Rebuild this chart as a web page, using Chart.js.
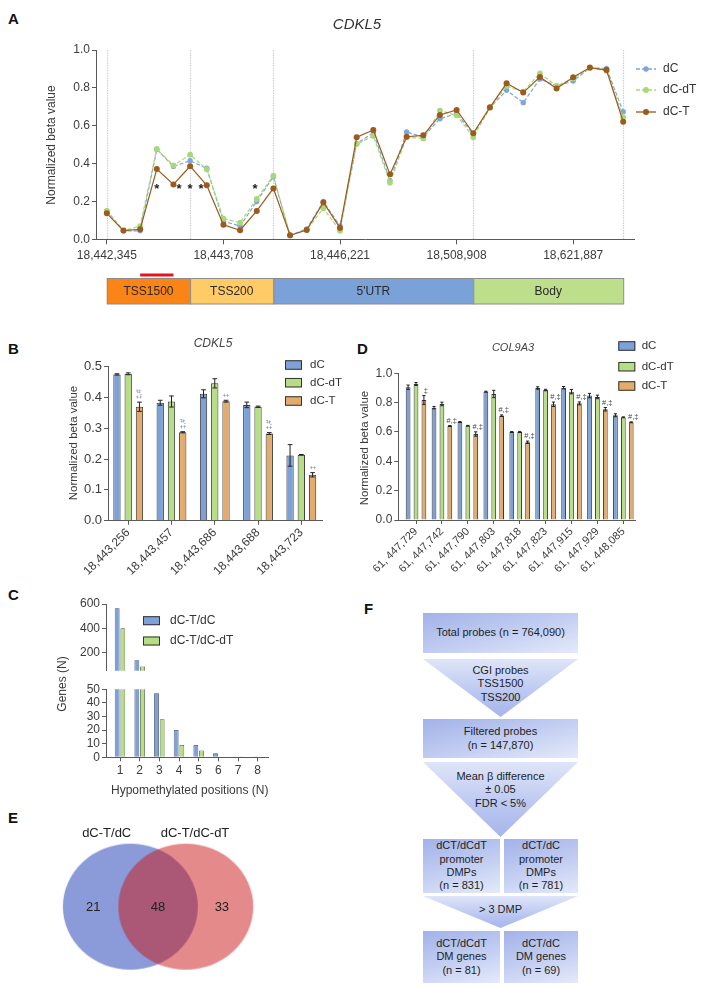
<!DOCTYPE html>
<html><head><meta charset="utf-8">
<script src="https://cdn.jsdelivr.net/npm/chart.js@4.4.1/dist/chart.umd.min.js"></script>
<style>
body{margin:0;background:#fff;width:705px;height:988px;position:relative;overflow:hidden;font-family:'Liberation Sans',Arial,Helvetica,sans-serif;}
canvas{position:absolute;}
.lbl{position:absolute;font-weight:bold;font-size:15px;line-height:15px;color:#111;}
.fb{position:absolute;box-sizing:border-box;display:flex;flex-direction:column;justify-content:center;align-items:center;text-align:center;font-size:11px;line-height:13.3px;color:#1e1e1e;}
.box{background:linear-gradient(165deg,#a2b2e9 0%,#c4cff2 55%,#e5eafa 100%);}
.tri{background:linear-gradient(to bottom,#dfe5f8 0%,#b9c6f0 60%,#a6b5eb 100%);clip-path:polygon(0 0,100% 0,50% 100%);justify-content:flex-start;}
.ytl{position:absolute;font-size:12px;color:#3a3a3a;transform:rotate(-90deg);transform-origin:center;white-space:nowrap;}
</style></head>
<body>
<div class="lbl" style="left:8px;top:11px">A</div>
<div class="lbl" style="left:8px;top:341px">B</div>
<div class="lbl" style="left:357px;top:341px">D</div>
<div class="lbl" style="left:8px;top:587px">C</div>
<div class="lbl" style="left:8px;top:810px">E</div>
<div class="lbl" style="left:364px;top:601px">F</div>

<canvas id="cA" width="705" height="312" style="left:0;top:0"></canvas>
<canvas id="cD" width="365" height="250" style="left:340px;top:330px"></canvas>
<canvas id="cB" width="350" height="250" style="left:0;top:330px"></canvas>
<canvas id="cC1" width="360" height="90" style="left:0;top:590px"></canvas>
<canvas id="cC2" width="360" height="120" style="left:0;top:680px"></canvas>
<canvas id="cE" width="320" height="188" style="left:0;top:800px"></canvas>
<div class="ytl" style="left:32px;top:677px;width:60px;text-align:center">Genes (N)</div>

<!-- Panel F flowchart -->
<div class="fb box" style="left:423px;top:613px;width:155px;height:40px">Total probes (n = 764,090)</div>
<div class="fb tri" style="left:423px;top:659px;width:155px;height:58px;padding-top:5px">CGI probes<br>TSS1500<br>TSS200</div>
<div class="fb box" style="left:423px;top:719px;width:155px;height:39px">Filtered probes<br>(n = 147,870)</div>
<div class="fb tri" style="left:423px;top:762px;width:155px;height:75px;padding-top:8px">Mean β difference<br>± 0.05<br>FDR &lt; 5%</div>
<div class="fb box" style="left:423px;top:839px;width:77px;height:54px">dCT/dCdT<br>promoter<br>DMPs<br>(n = 831)</div>
<div class="fb box" style="left:504px;top:839px;width:74px;height:54px">dCT/dC<br>promoter<br>DMPs<br>(n = 781)</div>
<div class="fb tri" style="left:423px;top:896px;width:155px;height:32px;padding-top:7px">&gt; 3 DMP</div>
<div class="fb box" style="left:423px;top:931px;width:77px;height:52px">dCT/dCdT<br>DM genes<br>(n = 81)</div>
<div class="fb box" style="left:504px;top:931px;width:74px;height:52px">dCT/dC<br>DM genes<br>(n = 69)</div>

<script>
// ================= DATA =================
// Panel A: CDKL5 probes (32 positions along gene)
const aProbeIdx = [0,1,2,3,4,5,6,7,8,9,10,11,12,13,14,15,16,17,18,19,20,21,22,23,24,25,26,27,28,29,30,31];
const aDC   = [0.15,0.045,0.045,0.475,0.385,0.415,0.375,0.095,0.07,0.20,0.33,0.02,0.055,0.20,0.07,0.505,0.563,0.31,0.567,0.54,0.637,0.665,0.556,0.695,0.787,0.722,0.847,0.81,0.836,0.905,0.903,0.674];
const aDCdT = [0.15,0.045,0.07,0.477,0.39,0.447,0.37,0.109,0.088,0.213,0.336,0.02,0.05,0.164,0.045,0.503,0.546,0.299,0.54,0.533,0.68,0.655,0.539,0.695,0.81,0.78,0.877,0.81,0.85,0.905,0.89,0.644];
const aDCT  = [0.137,0.046,0.053,0.371,0.29,0.386,0.285,0.077,0.048,0.15,0.269,0.021,0.049,0.195,0.06,0.539,0.577,0.343,0.542,0.549,0.657,0.683,0.56,0.697,0.824,0.775,0.857,0.797,0.856,0.907,0.894,0.621];
const aTickPos = [0,7,14,21,28];
const aTickLabels = ['18,442,345','18,443,708','18,446,221','18,508,908','18,621,887'];
const aRegionNames = ['TSS1500','TSS200',"5'UTR",'Body'];
const aRegionBounds = [0,5,10,22,31];
const aRegionColors = ['#fb8416','#ffcb66','#7aa2d8','#bddf8b'];
const aRedBar = [2,4];
const aStarPos = [3,4.33,5,5.66,8.9];
const aStarVal = [0.28,0.28,0.28,0.28,0.28];

// Panel B: CDKL5 bars
const bLabels = ['18,443,256','18,443,457','18,443,686','18,443,688','18,443,723'];
const bPos = [1,2,3,4,5];
const bDC   = [0.475,0.383,0.412,0.376,0.212];
const bDCdT = [0.477,0.387,0.446,0.370,0.214];
const bDCT  = [0.370,0.287,0.388,0.283,0.149];
const bErrDC   = [0.002,0.008,0.013,0.009,0.035];
const bErrDCdT = [0.003,0.018,0.015,0.002,0.001];
const bErrDCT  = [0.015,0.002,0.003,0.003,0.007];
const bMarks = ['‡,#','‡,#','‡','‡,#','‡'];

// Panel D: COL9A3 bars
const dLabels = ['61, 447,729','61, 447,742','61, 447,790','61, 447,803','61, 447,818','61, 447,823','61, 447,915','61, 447,929','61, 448,085'];
const dPos = [1,2,3,4,5,6,7,8,9];
const dDC   = [0.905,0.766,0.668,0.875,0.600,0.900,0.902,0.848,0.714];
const dDCdT = [0.927,0.791,0.643,0.859,0.600,0.886,0.875,0.839,0.700];
const dDCT  = [0.818,0.641,0.586,0.711,0.530,0.789,0.795,0.755,0.666];
const dErrDC   = [0.015,0.008,0.003,0.003,0.003,0.008,0.008,0.015,0.010];
const dErrDCdT = [0.010,0.012,0.002,0.025,0.004,0.005,0.015,0.012,0.003];
const dErrDCT  = [0.030,0.003,0.015,0.005,0.008,0.015,0.010,0.012,0.003];
const dMarks = ['‡','#,‡','#,‡','#,‡','#,‡','#,‡','#,‡','#,‡','#,‡'];

// Panel C: genes per number of hypomethylated positions
const cPos = [1,2,3,4,5,6,7,8];
const cDCTvsDC   = [565,137,47,20,9,3,0.6,0.6];
const cDCTvsDCdT = [400,85,28,9,5,0,0.6,0];
const cUpperTicks = [200,400,600];

// Panel E: Venn
const vennNames = ['dC-T/dC','dC-T/dC-dT'];
const vennCX = [-0.5,0.5];
const vennCY = [0,0];
const vennCounts = ['21','48','33'];
const vennCountX = [-1.168,0,1.151];

// ================= STYLE =================
const FF = "'Liberation Sans', Arial, Helvetica, sans-serif";
Chart.defaults.font.family = FF;
Chart.defaults.color = '#3c3c3c';
Chart.defaults.animation = false;
const BLUE='#7ea2d8', GREEN='#b6de84', ORANGE='#e3ac6c';
const AX='#5a5a5a';

function txt(ctx,s,x,y,o={}){
  ctx.save();
  ctx.font=o.font||('12px '+FF);
  ctx.fillStyle=o.color||'#333';
  ctx.textAlign=o.align||'center';
  ctx.textBaseline=o.base||'middle';
  ctx.translate(x,y);
  if(o.rot) ctx.rotate(o.rot);
  ctx.fillText(s,0,0);
  ctx.restore();
}
const pts=(xs,ys)=>ys.map((v,i)=>({x:xs[i],y:v}));
const common={responsive:false,animation:false,events:[],plugins:{legend:{display:false},tooltip:{enabled:false}}};
function axisGrid(len){return {drawOnChartArea:false,drawTicks:true,tickLength:len,color:AX,lineWidth:1};}

// ================= PANEL A =================
const aPlugin={id:'aDeco',
  beforeDatasetsDraw(chart){
    const ctx=chart.ctx,xs=chart.scales.x,ca=chart.chartArea;
    ctx.save();ctx.strokeStyle='#d2d2d2';ctx.lineWidth=1.2;ctx.setLineDash([1.5,1]);
    aRegionBounds.forEach(b=>{const x=Math.round(xs.getPixelForValue(b))+0.5;ctx.beginPath();ctx.moveTo(x,ca.top);ctx.lineTo(x,ca.bottom);ctx.stroke();});
    ctx.restore();
  },
  afterDraw(chart){
    const ctx=chart.ctx,xs=chart.scales.x,ys=chart.scales.y;
    for(let i=0;i<aRegionNames.length;i++){
      const x1=xs.getPixelForValue(aRegionBounds[i]),x2=xs.getPixelForValue(aRegionBounds[i+1]);
      ctx.save();ctx.fillStyle=aRegionColors[i];ctx.fillRect(x1,278,x2-x1,26);
      ctx.strokeStyle='#8c8c8c';ctx.lineWidth=1;ctx.strokeRect(x1+0.5,278.5,x2-x1,25.5);ctx.restore();
      txt(ctx,aRegionNames[i],(x1+x2)/2,291.5,{font:'12px '+FF,color:'#2a2a2a'});
    }
    ctx.save();ctx.strokeStyle='#e8141b';ctx.lineWidth=3;ctx.beginPath();
    ctx.moveTo(xs.getPixelForValue(aRedBar[0]),275);ctx.lineTo(xs.getPixelForValue(aRedBar[1]),275);ctx.stroke();ctx.restore();
    aStarPos.forEach((p,i)=>txt(ctx,'*',xs.getPixelForValue(p),ys.getPixelForValue(aStarVal[i])+7,{font:'bold 13px '+FF,color:'#222',base:'alphabetic'}));
    txt(ctx,'CDKL5',357,25,{font:'italic 15px '+FF,color:'#333'});
    txt(ctx,'Normalized beta value',52,145,{font:'12px '+FF,color:'#3a3a3a',rot:-Math.PI/2});
    const ly=[69,90,112];
    chart.data.datasets.forEach((ds,i)=>{
      ctx.save();ctx.strokeStyle=ds.borderColor;ctx.lineWidth=1.3;ctx.setLineDash(ds.borderDash||[]);
      ctx.beginPath();ctx.moveTo(636,ly[i]);ctx.lineTo(656,ly[i]);ctx.stroke();
      ctx.setLineDash([]);ctx.fillStyle=ds.borderColor;ctx.beginPath();ctx.arc(646,ly[i],ds.pointRadius,0,Math.PI*2);ctx.fill();ctx.restore();
      txt(ctx,ds.label,663,ly[i],{font:'12px '+FF,color:'#333',align:'left'});
    });
  }};
new Chart(document.getElementById('cA'),{
  type:'line',
  data:{datasets:[
    {label:'dC',data:pts(aProbeIdx,aDC),borderColor:'#7ea6dc',backgroundColor:'#7ea6dc',borderDash:[4,2],borderWidth:1.2,pointRadius:2.7,pointBorderWidth:0,order:3},
    {label:'dC-dT',data:pts(aProbeIdx,aDCdT),borderColor:'#a9d87a',backgroundColor:'#a9d87a',borderDash:[4,2],borderWidth:1.2,pointRadius:2.9,pointBorderWidth:0,order:2},
    {label:'dC-T',data:pts(aProbeIdx,aDCT),borderColor:'#9c5a1c',backgroundColor:'#9c5a1c',borderWidth:1.2,pointRadius:3,pointBorderWidth:0,order:1}
  ]},
  options:{...common,
    layout:{padding:{left:0,right:71,top:50,bottom:42.7}},
    scales:{
      x:{type:'linear',min:-0.65,max:31.65,afterFit:s=>{s.height=30;},
         afterBuildTicks:s=>{s.ticks=aTickPos.map(v=>({value:v}));},
         ticks:{autoSkip:false,maxRotation:0,padding:4,font:{size:12},color:'#3c3c3c',callback:v=>aTickLabels[aTickPos.indexOf(v)]},
         grid:axisGrid(5),border:{color:AX}},
      y:{min:0,max:1,afterFit:s=>{s.width=96;},
         ticks:{stepSize:0.2,autoSkip:false,padding:2,font:{size:12},color:'#3c3c3c',callback:v=>v.toFixed(1)},
         grid:axisGrid(4),border:{color:AX}}
    }},
  plugins:[aPlugin]
});

// ================= BAR HELPERS =================
function barPlugin(id,errs,marks,markDraw,legend,extra){
  return {id,
    afterDatasetsDraw(chart){
      const ctx=chart.ctx,ys=chart.scales.y;
      chart.data.datasets.forEach((ds,d)=>{
        chart.getDatasetMeta(d).data.forEach((el,i)=>{
          const v=ds.data[i].y,e=errs[d][i];
          const yt=ys.getPixelForValue(v+e),yb=ys.getPixelForValue(v-e);
          const w=Math.max(1.6,el.width*0.32);
          ctx.save();ctx.strokeStyle='#222';ctx.lineWidth=1;ctx.beginPath();
          ctx.moveTo(el.x,yt);ctx.lineTo(el.x,yb);
          ctx.moveTo(el.x-w,yt);ctx.lineTo(el.x+w,yt);
          ctx.moveTo(el.x-w,yb);ctx.lineTo(el.x+w,yb);ctx.stroke();ctx.restore();
          if(d===2) markDraw(ctx,marks[i],el.x,yt);
        });
      });
    },
    afterDraw(chart){
      const ctx=chart.ctx;
      chart.data.datasets.forEach((ds,i)=>{
        const y=legend.y[i];
        ctx.save();ctx.fillStyle=ds.backgroundColor;ctx.fillRect(legend.x,y-legend.h/2,legend.w,legend.h);
        ctx.strokeStyle='#333';ctx.lineWidth=1;ctx.strokeRect(legend.x+0.5,y-legend.h/2+0.5,legend.w-1,legend.h-1);ctx.restore();
        txt(ctx,ds.label,legend.tx,y,{font:legend.font,color:'#333',align:'left'});
      });
      extra(ctx,chart);
    }};
}
function barDs(label,xs,vals,color){return {label,data:pts(xs,vals),backgroundColor:color,borderColor:'#383838',borderWidth:1,borderSkipped:'bottom'};}

// ================= PANEL B =================
new Chart(document.getElementById('cB'),{
  type:'bar',
  data:{datasets:[barDs('dC',bPos,bDC,BLUE),barDs('dC-dT',bPos,bDCdT,GREEN),barDs('dC-T',bPos,bDCT,ORANGE)]},
  options:{...common,
    categoryPercentage:0.78,barPercentage:0.65,
    layout:{padding:{left:0,right:28,top:36.7,bottom:0}},
    scales:{
      x:{type:'linear',min:0.533,max:5.478,offset:false,afterFit:s=>{s.height=59.3;},
         afterBuildTicks:s=>{s.ticks=bPos.map(v=>({value:v}));},
         ticks:{autoSkip:false,minRotation:45,maxRotation:45,padding:1,font:{size:12},color:'#3c3c3c',callback:v=>bLabels[bPos.indexOf(v)]},
         grid:{...axisGrid(4),offset:false},border:{color:AX}},
      y:{min:0,max:0.5,afterFit:s=>{s.width=108;},
         ticks:{stepSize:0.1,autoSkip:false,padding:2,font:{size:13},color:'#3c3c3c',callback:v=>v.toFixed(1)},
         grid:axisGrid(4),border:{color:AX}}
    }},
  plugins:[barPlugin('bDeco',[bErrDC,bErrDCdT,bErrDCT],bMarks,
    (ctx,m,x,yt)=>txt(ctx,m,x,yt-3,{font:'7px '+FF,color:'#6f83a3',align:'left',rot:-Math.PI/2}),
    {x:285,w:17,h:9.5,y:[35,52.7,71],tx:310,font:'11.5px '+FF},
    (ctx)=>{
      txt(ctx,'CDKL5',213,14,{font:'italic 12px '+FF,color:'#444'});
      txt(ctx,'Normalized beta value',74,113,{font:'11.5px '+FF,color:'#3a3a3a',rot:-Math.PI/2});
    })]
});

// ================= PANEL D =================
new Chart(document.getElementById('cD'),{
  type:'bar',
  data:{datasets:[barDs('dC',dPos,dDC,BLUE),barDs('dC-dT',dPos,dDCdT,GREEN),barDs('dC-T',dPos,dDCT,ORANGE)]},
  options:{...common,
    categoryPercentage:0.915,barPercentage:0.6,
    layout:{padding:{left:0,right:70,top:43.3,bottom:0}},
    scales:{
      x:{type:'linear',min:0.317,max:9.45,offset:false,afterFit:s=>{s.height=60;},
         afterBuildTicks:s=>{s.ticks=dPos.map(v=>({value:v}));},
         ticks:{autoSkip:false,minRotation:45,maxRotation:45,padding:1,font:{size:11},color:'#3c3c3c',callback:v=>dLabels[dPos.indexOf(v)]},
         grid:{...axisGrid(4),offset:false},border:{color:AX}},
      y:{min:0,max:1,afterFit:s=>{s.width=58.3;},
         ticks:{stepSize:0.2,autoSkip:false,padding:2,font:{size:12},color:'#3c3c3c',callback:v=>v.toFixed(1)},
         grid:axisGrid(4),border:{color:AX}}
    }},
  plugins:[barPlugin('dDeco',[dErrDC,dErrDCdT,dErrDCT],dMarks,
    (ctx,m,x,yt)=>txt(ctx,m,x+2,yt-1,{font:'7.5px '+FF,color:'#444',base:'bottom'}),
    {x:278.3,w:17,h:9.5,y:[16,36.7,56],tx:301.7,font:'11.5px '+FF},
    (ctx)=>{
      txt(ctx,'COL9A3',173,18,{font:'italic 11px '+FF,color:'#444'});
      txt(ctx,'Normalized beta value',25,118,{font:'11.5px '+FF,color:'#3a3a3a',rot:-Math.PI/2});
    })]
});

// ================= PANEL C (broken axis) =================
function cDatasets(){return [
  {label:'dC-T/dC',data:pts(cPos,cDCTvsDC),backgroundColor:BLUE,borderColor:'#3e4a66',borderWidth:0.8,clip:0},
  {label:'dC-T/dC-dT',data:pts(cPos,cDCTvsDCdT),backgroundColor:GREEN,borderColor:'#4a5a3a',borderWidth:0.8,clip:0}
];}
const cX=(show,h)=>({type:'linear',min:0.288,max:8.54,offset:false,display:show,afterFit:s=>{s.height=h;},
  afterBuildTicks:s=>{s.ticks=cPos.map(v=>({value:v}));},
  ticks:{autoSkip:false,maxRotation:0,padding:2,font:{size:12},color:'#3c3c3c'},
  grid:{...axisGrid(4),offset:false},border:{color:AX}});
new Chart(document.getElementById('cC1'),{
  type:'bar',
  data:{datasets:cDatasets()},
  options:{...common,categoryPercentage:0.575,barPercentage:0.85,
    layout:{padding:{left:0,right:91.7,top:14,bottom:7.25}},
    scales:{
      x:cX(false,0),
      y:{min:50,max:600,afterFit:s=>{s.width=106;},afterBuildTicks:s=>{s.ticks=cUpperTicks.map(v=>({value:v}));},
         ticks:{autoSkip:false,padding:2,font:{size:12},color:'#3c3c3c'},grid:axisGrid(4),border:{color:AX}}
    }},
  plugins:[{id:'cLeg',afterDraw(chart){
    const ctx=chart.ctx,ly=[30.7,51];
    chart.data.datasets.forEach((ds,i)=>{
      ctx.save();ctx.fillStyle=ds.backgroundColor;ctx.fillRect(143,ly[i]-4.5,17,9);
      ctx.strokeStyle='#333';ctx.lineWidth=1;ctx.strokeRect(143.5,ly[i]-4,16,8);ctx.restore();
      txt(ctx,ds.label,170,ly[i],{font:'12px '+FF,color:'#333',align:'left'});
    });
  }}]
});
new Chart(document.getElementById('cC2'),{
  type:'bar',
  data:{datasets:cDatasets()},
  options:{...common,categoryPercentage:0.575,barPercentage:0.85,
    layout:{padding:{left:0,right:91.7,top:6.7,bottom:0}},
    scales:{
      x:cX(true,42.7),
      y:{min:0,max:50,afterFit:s=>{s.width=106;},
         ticks:{stepSize:10,autoSkip:false,padding:2,font:{size:12},color:'#3c3c3c'},grid:axisGrid(4),border:{color:AX}}
    }},
  plugins:[{id:'cTitle',afterDraw(chart){
    txt(chart.ctx,'Hypomethylated positions (N)',189.7,111,{font:'12px '+FF,color:'#3a3a3a'});
  }}]
});

// ================= PANEL E (Venn) =================
function ellipse(rx,ry,fill){
  const c=document.createElement('canvas');c.width=Math.ceil(rx*2)+2;c.height=Math.ceil(ry*2)+2;
  const g=c.getContext('2d');g.fillStyle=fill;g.beginPath();g.ellipse(c.width/2,c.height/2,rx,ry,0,0,Math.PI*2);g.fill();return c;
}
const vennStyles=[ellipse(67.5,63,'rgba(23,53,177,0.5)'),ellipse(67.5,63,'rgba(203,21,21,0.5)')];
new Chart(document.getElementById('cE'),{
  type:'scatter',
  data:{datasets:[{data:pts(vennCX,vennCY),pointStyle:vennStyles,pointRadius:5}]},
  options:{...common,layout:{padding:0},
    scales:{x:{type:'linear',display:false,min:-2.743,max:2.813},y:{type:'linear',display:false,min:-0.8564,max:1.1436}}},
  plugins:[{id:'vennTxt',afterDraw(chart){
    const ctx=chart.ctx,xs=chart.scales.x,ys=chart.scales.y;
    vennCounts.forEach((c,i)=>txt(ctx,c,xs.getPixelForValue(vennCountX[i]),ys.getPixelForValue(0)+0.5,{font:'13px '+FF,color:'#222'}));
    txt(ctx,vennNames[0],106.7,33,{font:'13px '+FF,color:'#222'});
    txt(ctx,vennNames[1],195,33,{font:'13px '+FF,color:'#222'});
  }}]
});
</script>
</body></html>
